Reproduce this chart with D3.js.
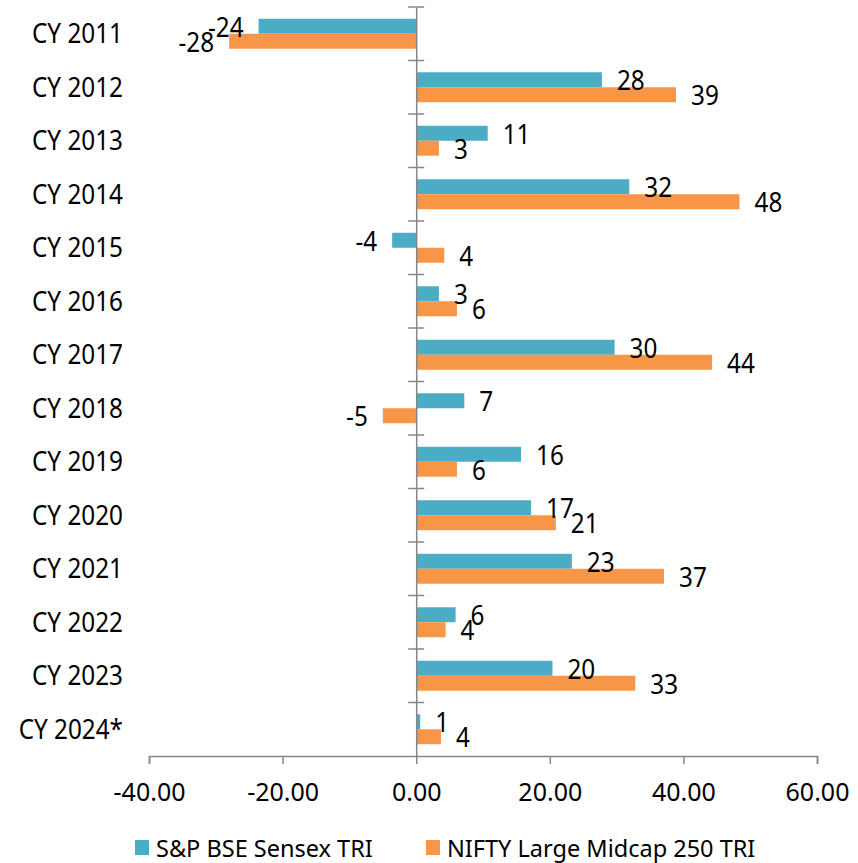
<!DOCTYPE html>
<html>
<head>
<meta charset="utf-8">
<script src="https://cdn.jsdelivr.net/npm/d3@7"></script>
<style>
  html, body { margin: 0; padding: 0; background: #fff; }
  svg text { font-family: "Noto Sans", "Open Sans", sans-serif; fill: #000; }
</style>
</head>
<body>
<svg id="chart" width="858" height="863"></svg>
<script>
const categories = ["CY 2011","CY 2012","CY 2013","CY 2014","CY 2015","CY 2016","CY 2017","CY 2018","CY 2019","CY 2020","CY 2021","CY 2022","CY 2023","CY 2024*"];
const seriesNames = ["S&P BSE Sensex TRI","NIFTY Large Midcap 250 TRI"];
const sensex = [-23.6, 27.8, 10.7, 31.9, -3.6, 3.4, 29.7, 7.2, 15.7, 17.2, 23.3, 5.9, 20.4, 0.6];
const nifty  = [-28.0, 38.9, 3.4, 48.4, 4.2, 6.1, 44.3, -5.0, 6.1, 20.9, 37.1, 4.4, 32.8, 3.7];
const xTicks = [-40, -20, 0, 20, 40, 60];
const colors = ["#4BACC6", "#F79646"];

const locale = d3.formatLocale({decimal: ".", thousands: ",", grouping: [3], currency: ["", ""], minus: "-"});
const fmtInt = locale.format(".0f");
const fmtAxis = locale.format(".2f");

const svg = d3.select("#chart");
const x = d3.scaleLinear().domain([-40, 60]).range([149, 817]);
const y = d3.scaleBand().domain(categories).range([7, 756]);
const bw = y.bandwidth();
const ySub = d3.scaleBand().domain([0, 1]).range([bw * 0.22, bw * 0.78]);
const seriesVals = [sensex, nifty];
const gridColor = "#868686";
const SX = 0.9;

// bars
seriesVals.forEach((vals, si) => {
  svg.append("g").selectAll("rect").data(categories).join("rect")
    .attr("x", (c, i) => x(Math.min(0, vals[i])))
    .attr("width", (c, i) => Math.abs(x(vals[i]) - x(0)))
    .attr("y", c => y(c) + ySub(si))
    .attr("height", ySub.bandwidth())
    .attr("fill", colors[si]);
});

// x axis
const xAxis = d3.axisBottom(x).tickValues(xTicks).tickSize(8).tickFormat(fmtAxis);
const gx = svg.append("g").attr("transform", `translate(0,756)`).call(xAxis);
gx.select(".domain").attr("stroke", gridColor).attr("stroke-width", 1.5);
gx.selectAll(".tick line").attr("stroke", gridColor).attr("stroke-width", 1.5);
gx.selectAll(".tick text").attr("font-size", 25).attr("dy", 0).attr("y", 45)
  .style("font-family", '"Noto Sans", sans-serif').attr("fill", "#000");

// category axis at zero
const yAxis = d3.axisLeft(y).tickSize(0).tickFormat("");
const gy = svg.append("g").attr("transform", `translate(${x(0)},0)`).call(yAxis);
gy.select(".domain").attr("stroke", gridColor).attr("stroke-width", 1.5);
const bounds = categories.map(c => y(c));
svg.append("g").selectAll("line").data(bounds).join("line")
  .attr("x1", x(0) - 8).attr("x2", x(0) + 8)
  .attr("y1", d => d).attr("y2", d => d)
  .attr("stroke", gridColor).attr("stroke-width", 1.5);

// category labels
svg.append("g").selectAll("text").data(categories).join("text")
  .attr("transform", c => `translate(123,${y(c) + bw / 2}) scale(${SX},1)`)
  .attr("dy", "0.36em")
  .attr("text-anchor", "end")
  .attr("font-size", 27)
  .text(c => c);

// value labels
seriesVals.forEach((vals, si) => {
  svg.append("g").selectAll("text").data(categories).join("text")
    .attr("transform", (c, i) => `translate(${x(vals[i]) + (vals[i] >= 0 ? 15 : -15)},${y(c) + ySub(si) + ySub.bandwidth() / 2 + 1}) scale(${SX},1)`)
    .attr("dy", "0.36em")
    .attr("text-anchor", (c, i) => vals[i] >= 0 ? "start" : "end")
    .attr("font-size", 27)
    .text((c, i) => fmtInt(vals[i]));
});

// legend
const legend = svg.append("g");
const legendX = [135, 426];
seriesNames.forEach((name, si) => {
  legend.append("rect").attr("x", legendX[si]).attr("y", 840).attr("width", 14).attr("height", 15).attr("fill", colors[si]);
  legend.append("text").attr("transform", `translate(${legendX[si] + 21},857) scale(0.98,1)`).attr("font-size", 24).text(name);
});
</script>
</body>
</html>
